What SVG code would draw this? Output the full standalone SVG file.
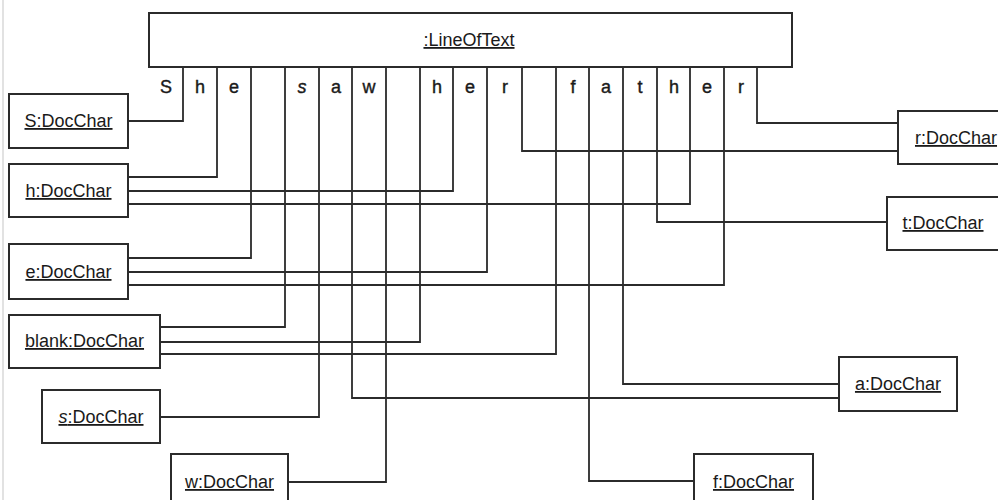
<svg xmlns="http://www.w3.org/2000/svg" width="998" height="500" viewBox="0 0 998 500">
<style>
.box{fill:#fff;stroke:#2b2b2b;stroke-width:2}
.lbl{font-family:"Liberation Sans",Arial,sans-serif;font-size:18px;fill:#1a1a1a;text-anchor:middle;text-decoration:underline}
.ch{font-family:"Liberation Sans",Arial,sans-serif;font-size:18px;fill:#1a1a1a;stroke:#1a1a1a;stroke-width:0.4;text-anchor:middle}
.it{font-style:italic}
.conn{fill:none;stroke:#2b2b2b;stroke-width:1.8}
</style>
<rect x="0" y="0" width="998" height="500" fill="#fff"/>
<line x1="3" y1="0" x2="3" y2="500" stroke="#e2e2e2" stroke-width="2"/>
<g id="connectors" class="conn">
<polyline points="183,67 183,121 128,121"/>
<polyline points="217,67 217,177 128,177"/>
<polyline points="251,67 251,258 128,258"/>
<polyline points="285,67 285,327 160,327"/>
<polyline points="319,67 319,417 160,417"/>
<polyline points="352,67 352,398 839,398"/>
<polyline points="386,67 386,482 288,482"/>
<polyline points="420,67 420,342 160,342"/>
<polyline points="453,67 453,191 128,191"/>
<polyline points="487,67 487,272 128,272"/>
<polyline points="522,67 522,151 898,151"/>
<polyline points="556,67 556,354 160,354"/>
<polyline points="589,67 589,481 694,481"/>
<polyline points="623,67 623,384 839,384"/>
<polyline points="657,67 657,222 887,222"/>
<polyline points="690,67 690,204 128,204"/>
<polyline points="724,67 724,285 128,285"/>
<polyline points="757,67 757,123 898,123"/>
</g>
<g id="lineOfText">
<rect class="box" x="149" y="13" width="643" height="54"/>
<text class="lbl" x="469" y="46">:LineOfText</text>
<g class="ch">
<text x="166" y="93">S</text>
<text x="200" y="93">h</text>
<text x="234" y="93">e</text>
<text x="302" y="93" class="it">s</text>
<text x="336" y="93">a</text>
<text x="369" y="93">w</text>
<text x="437" y="93">h</text>
<text x="470" y="93">e</text>
<text x="505" y="93">r</text>
<text x="573" y="93">f</text>
<text x="606" y="93">a</text>
<text x="640" y="93">t</text>
<text x="674" y="93">h</text>
<text x="707" y="93">e</text>
<text x="741" y="93">r</text>
</g>
</g>
<g id="S_DocChar"><rect class="box" x="9" y="94" width="119" height="54"/><text class="lbl" x="68.5" y="127">S:DocChar</text></g>
<g id="h_DocChar"><rect class="box" x="9" y="164" width="119" height="53"/><text class="lbl" x="68.5" y="197">h:DocChar</text></g>
<g id="e_DocChar"><rect class="box" x="9" y="244" width="119" height="55"/><text class="lbl" x="68.5" y="278">e:DocChar</text></g>
<g id="blank_DocChar"><rect class="box" x="9" y="315" width="151" height="53"/><text class="lbl" x="84.5" y="347">blank:DocChar</text></g>
<g id="s_DocChar"><rect class="box" x="42" y="390" width="118" height="53"/><text class="lbl" x="101" y="423"><tspan class="it">s</tspan>:DocChar</text></g>
<g id="w_DocChar"><rect class="box" x="171" y="454" width="117" height="60"/><text class="lbl" x="229.5" y="488">w:DocChar</text></g>
<g id="r_DocChar"><rect class="box" x="898" y="111" width="118" height="53"/><text class="lbl" x="956" y="144">r:DocChar</text></g>
<g id="t_DocChar"><rect class="box" x="887" y="197" width="118" height="53"/><text class="lbl" x="943" y="229">t:DocChar</text></g>
<g id="a_DocChar"><rect class="box" x="839" y="357" width="118" height="54"/><text class="lbl" x="898" y="390">a:DocChar</text></g>
<g id="f_DocChar"><rect class="box" x="694" y="454" width="119" height="60"/><text class="lbl" x="753.5" y="488">f:DocChar</text></g>
</svg>
